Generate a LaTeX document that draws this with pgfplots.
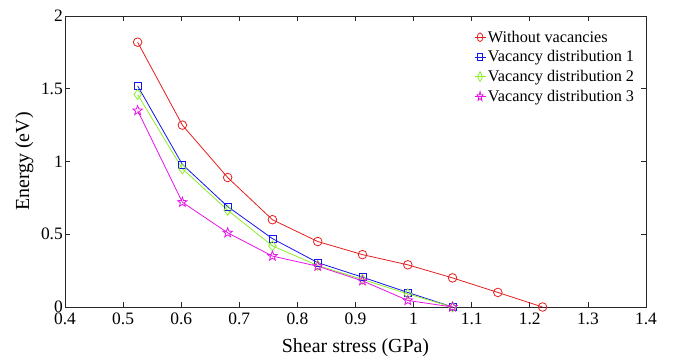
\documentclass[border=0pt]{standalone}
\usepackage{pgfplots}
\pgfplotsset{compat=1.18}
\usepackage{fontspec}
\setmainfont{Liberation Serif}
\definecolor{cR}{RGB}{228,30,30}
\definecolor{cB}{RGB}{20,20,240}
\definecolor{cG}{RGB}{140,240,40}
\definecolor{cM}{RGB}{230,20,230}
\definecolor{axc}{RGB}{40,40,40}
\pgfdeclareplotmark{pstar}{%
  \pgfpathmoveto{\pgfpointpolar{90}{\pgfplotmarksize}}%
  \pgfpathlineto{\pgfpointpolar{126}{0.42\pgfplotmarksize}}%
  \pgfpathlineto{\pgfpointpolar{162}{\pgfplotmarksize}}%
  \pgfpathlineto{\pgfpointpolar{198}{0.42\pgfplotmarksize}}%
  \pgfpathlineto{\pgfpointpolar{234}{\pgfplotmarksize}}%
  \pgfpathlineto{\pgfpointpolar{270}{0.42\pgfplotmarksize}}%
  \pgfpathlineto{\pgfpointpolar{306}{\pgfplotmarksize}}%
  \pgfpathlineto{\pgfpointpolar{342}{0.42\pgfplotmarksize}}%
  \pgfpathlineto{\pgfpointpolar{18}{\pgfplotmarksize}}%
  \pgfpathlineto{\pgfpointpolar{54}{0.42\pgfplotmarksize}}%
  \pgfpathclose\pgfusepathqstroke}
\begin{document}
\begin{tikzpicture}
\useasboundingbox (-65bp,-49bp) rectangle (610bp,307bp);
\begin{axis}[
  scale only axis, width=581bp, height=291bp,
  at={(0,0)}, anchor=south west,
  xmin=0.4, xmax=1.4, ymin=0, ymax=2,
  xtick={0.4,0.5,...,1.4}, ytick={0,0.5,1,1.5,2},
  xticklabels={0.4,0.5,0.6,0.7,0.8,0.9,1,1.1,1.2,1.3,1.4},
  yticklabels={0,0.5,1,1.5,2},
  tick align=inside, major tick length=5bp,
  axis line style={axc, line width=0.8pt},
  every tick/.style={axc, line width=0.8pt},
  xticklabel style={font=\fontsize{17.5}{19}\selectfont, text=black, inner sep=2bp, yshift=-4bp},
  yticklabel style={font=\fontsize{17.5}{19}\selectfont, text=black, inner sep=2bp},
  label style={font=\fontsize{20}{22}\selectfont},
  xlabel={Shear stress (GPa)}, ylabel={Energy (eV)},
  xlabel style={yshift=-8bp},
  ylabel style={yshift=2bp},
  legend style={draw=none, fill=none, at={(0.985,0.96)}, anchor=north east,
    font=\fontsize{16.3}{18}\selectfont, row sep=3bp, inner sep=1bp,
    cells={anchor=west}},
  legend image post style={xscale=0.65},
  every axis plot/.append style={line width=0.8pt},
]
\addplot[cR, mark=o, mark size=4.3bp, mark options={fill=white}] coordinates {
(0.525,1.82) (0.602,1.25) (0.680,0.89) (0.757,0.60) (0.835,0.45)
(0.912,0.36) (0.990,0.29) (1.067,0.20) (1.145,0.10) (1.222,0.00)};
\addlegendentry{Without vacancies}
\addplot[cB, mark=square, mark size=3.5bp] coordinates {
(0.525,1.52) (0.602,0.98) (0.680,0.69) (0.757,0.47) (0.835,0.305)
(0.912,0.205) (0.990,0.10) (1.067,0.00)};
\addlegendentry{Vacancy distribution 1}
\addplot[cG, mark=diamond, mark size=5bp] coordinates {
(0.525,1.46) (0.602,0.95) (0.680,0.665) (0.757,0.42) (0.835,0.285)
(0.912,0.19) (0.990,0.09) (1.067,0.00)};
\addlegendentry{Vacancy distribution 2}
\addplot[cM, mark=pstar, mark size=5bp] coordinates {
(0.525,1.35) (0.602,0.72) (0.680,0.51) (0.757,0.35) (0.835,0.28)
(0.912,0.18) (0.990,0.045) (1.067,0.00)};
\addlegendentry{Vacancy distribution 3}
\end{axis}
\end{tikzpicture}
\end{document}
